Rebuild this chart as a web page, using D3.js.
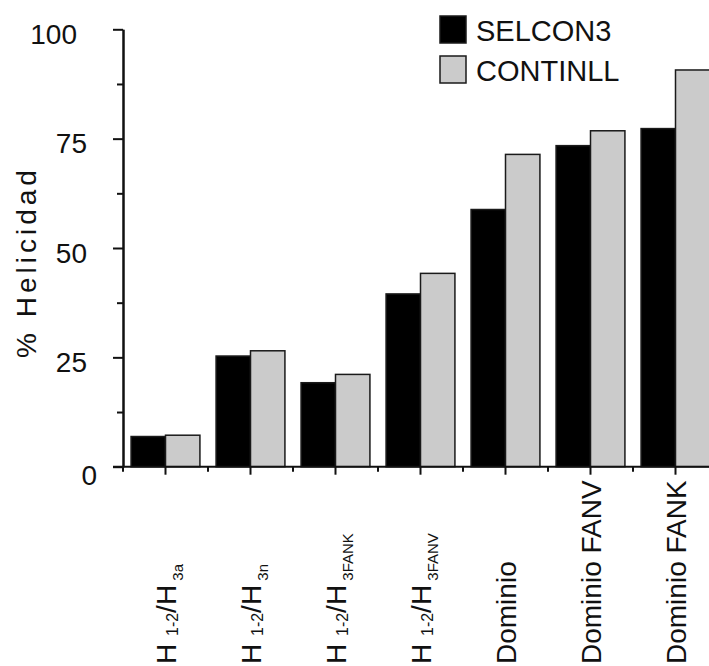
<!DOCTYPE html>
<meta charset="utf-8">
<style>
body { margin: 0; background: #fff; }
svg { font-family: "Liberation Sans", Arial, sans-serif; }
.axis path, .axis line { stroke: #111; stroke-width: 2; fill: none; }
.axis text { fill: #111; font-size: 28px; }
</style>
<body>
<div id="chart"></div>
<script src="https://d3js.org/d3.v7.min.js"></script>
<script>
// data
var categories = ["H1-2/H3a", "H1-2/H3n", "H1-2/H3FANK", "H1-2/H3FANV", "Dominio", "Dominio FANV", "Dominio FANK"];
var subscripts = ["3a", "3n", "3FANK", "3FANV", null, null, null];
var seriesNames = ["SELCON3", "CONTINLL"];
var selcon3 = [6.9, 25.3, 19.2, 39.5, 58.8, 73.4, 77.3];
var continll = [7.2, 26.5, 21.1, 44.2, 71.4, 76.8, 90.7];
var yTicks = [0, 25, 50, 75, 100];
var yMinorTicks = [12.5, 37.5, 62.5, 87.5];

var width = 709, height = 666,
    margin = {left: 123, top: 29.3, bottom: 199.3},
    step = 85;

var colors = {SELCON3: "#000000", CONTINLL: "#cbcbcb"};

var svg = d3.select("#chart").append("svg")
    .attr("width", width)
    .attr("height", height);

var x0 = d3.scaleBand()
    .domain(categories)
    .range([margin.left, margin.left + step * categories.length])
    .paddingInner(0.19)
    .paddingOuter(0.095);

var x1 = d3.scaleBand().domain(seriesNames).range([0, x0.bandwidth()]);

var y = d3.scaleLinear().domain([0, 100]).range([height - margin.bottom, margin.top]);

var rows = categories.map(function(c, i) {
  return {cat: c, SELCON3: selcon3[i], CONTINLL: continll[i]};
});

// bars
var groups = svg.selectAll(".grp")
    .data(rows)
    .enter().append("g")
    .attr("class", "grp")
    .attr("transform", d => `translate(${x0(d.cat)},0)`);

groups.selectAll("rect")
    .data(d => seriesNames.map(k => ({key: k, value: d[k]})))
    .enter().append("rect")
    .attr("x", d => x1(d.key))
    .attr("y", d => y(d.value))
    .attr("width", x1.bandwidth())
    .attr("height", d => y(0) - y(d.value))
    .attr("fill", d => colors[d.key])
    .attr("stroke", "#1a1a1a")
    .attr("stroke-width", 1.5);

// x axis line across the whole width
svg.append("line")
    .attr("x1", margin.left - 10).attr("x2", width)
    .attr("y1", y(0)).attr("y2", y(0))
    .attr("stroke", "#111").attr("stroke-width", 2);

// long ticks at the category centres
svg.selectAll(".xt")
    .data(categories)
    .enter().append("line")
    .attr("x1", d => x0(d) + x0.bandwidth() / 2)
    .attr("x2", d => x0(d) + x0.bandwidth() / 2)
    .attr("y1", y(0)).attr("y2", y(0) + 8)
    .attr("stroke", "#111").attr("stroke-width", 2);

// short ticks between categories
svg.selectAll(".xb")
    .data(categories)
    .enter().append("line")
    .attr("x1", d => x0(d) - x0.step() * x0.paddingOuter())
    .attr("x2", d => x0(d) - x0.step() * x0.paddingOuter())
    .attr("y1", y(0)).attr("y2", y(0) + 5)
    .attr("stroke", "#111").attr("stroke-width", 2);

// x labels, rotated
var xl = svg.selectAll(".xl")
    .data(categories)
    .enter().append("text")
    .attr("transform", d => `translate(${x0(d) + x0.bandwidth() / 2},664) rotate(-90)`)
    .attr("dy", "0.36em")
    .attr("fill", "#111")
    .style("font-size", "28px");

xl.each(function(d, i) {
  var t = d3.select(this);
  if (subscripts[i]) {
    t.append("tspan").text("H ");
    t.append("tspan").text("1-2").style("font-size", "16px").attr("dy", 2);
    t.append("tspan").text("/H").attr("dy", -2);
    t.append("tspan").text(" " + subscripts[i]).style("font-size", "15px").attr("dy", 7);
  } else {
    t.text(d);
  }
});

// y axis
svg.append("g")
    .attr("class", "axis")
    .attr("transform", `translate(${margin.left},0)`)
    .call(d3.axisLeft(y).tickValues(yMinorTicks).tickSize(6).tickSizeOuter(0).tickFormat(""));

var yAxis = svg.append("g")
    .attr("class", "axis")
    .attr("transform", `translate(${margin.left},0)`)
    .call(d3.axisLeft(y).tickValues(yTicks).tickSize(10).tickSizeOuter(0).tickPadding(26));

yAxis.selectAll("text")
    .attr("dy", d => d === 0 ? "0.65em" : "0.5em")
    .attr("dx", d => d === 100 ? -10 : d === 0 ? 10 : 0);

// y title
svg.append("text")
    .attr("transform", "translate(36,262) rotate(-90)")
    .attr("text-anchor", "middle")
    .attr("fill", "#111")
    .style("font-size", "28px")
    .style("letter-spacing", "4px")
    .text("% Helicidad");

// legend
var legend = svg.selectAll(".leg")
    .data(seriesNames)
    .enter().append("g")
    .attr("transform", (d, i) => `translate(440,${16 + i * 40})`);

legend.append("rect")
    .attr("width", 26)
    .attr("height", 27)
    .attr("fill", d => colors[d])
    .attr("stroke", "#1a1a1a")
    .attr("stroke-width", 1.5);

legend.append("text")
    .attr("x", 36)
    .attr("y", 25)
    .attr("fill", "#111")
    .style("font-size", "29px")
    .text(d => d);
</script>
</body>
